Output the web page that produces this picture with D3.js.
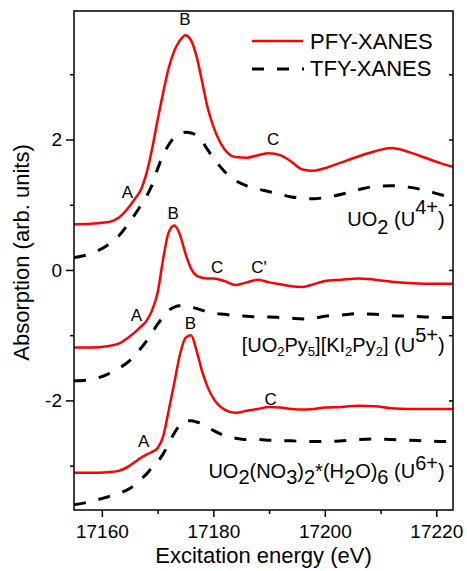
<!DOCTYPE html>
<html>
<head>
<meta charset="utf-8">
<script src="https://cdnjs.cloudflare.com/ajax/libs/d3/7.8.5/d3.min.js"></script>
<style>
    body { margin: 0; background: #fff; }
    svg text { font-family: "Liberation Sans", Arial, sans-serif; fill: #000; }
</style>
</head>
<body>
<div id="chart"></div>
<script>
// energy grid (eV), shared by all six spectra
var energy = [17155, 17158, 17161, 17163, 17165, 17166, 17167, 17168, 17169, 17170,
    17171, 17172, 17173, 17174, 17175, 17176, 17177, 17178, 17179, 17180,
    17182, 17184, 17186, 17188, 17190, 17192, 17194, 17196, 17198, 17200,
    17203, 17206, 17209, 17212, 17215, 17218, 17221, 17223];

// UO2 (U4+)
var pfyU4 = [0.70, 0.71, 0.73, 0.80, 0.98, 1.10, 1.23, 1.48, 1.85, 2.30,
    2.72, 3.10, 3.36, 3.52, 3.60, 3.52, 3.27, 2.88, 2.48, 2.20,
    1.85, 1.73, 1.72, 1.76, 1.79, 1.76, 1.66, 1.54, 1.52, 1.56,
    1.65, 1.74, 1.82, 1.87, 1.81, 1.72, 1.63, 1.58];
var tfyU4 = [0.19, 0.25, 0.38, 0.52, 0.74, 0.86, 0.99, 1.13, 1.30, 1.55,
    1.76, 1.92, 2.03, 2.09, 2.11, 2.10, 2.06, 1.97, 1.84, 1.72,
    1.51, 1.37, 1.29, 1.24, 1.20, 1.16, 1.12, 1.10, 1.09, 1.11,
    1.16, 1.23, 1.28, 1.29, 1.27, 1.22, 1.15, 1.11];

// [UO2Py5][KI2Py2] (U5+)
var pfyU5 = [-1.19, -1.19, -1.17, -1.13, -1.02, -0.95, -0.87, -0.78, -0.62, -0.35,
    0.17, 0.58, 0.68, 0.54, 0.25, 0.02, -0.09, -0.12, -0.13, -0.13,
    -0.17, -0.23, -0.19, -0.15, -0.19, -0.22, -0.25, -0.26, -0.22, -0.17,
    -0.15, -0.13, -0.15, -0.18, -0.20, -0.21, -0.21, -0.21];
var tfyU5 = [-1.70, -1.68, -1.60, -1.51, -1.39, -1.30, -1.20, -1.09, -0.96, -0.83,
    -0.72, -0.62, -0.57, -0.55, -0.55, -0.57, -0.59, -0.62, -0.64, -0.66,
    -0.68, -0.70, -0.71, -0.72, -0.72, -0.73, -0.74, -0.75, -0.74, -0.71,
    -0.69, -0.67, -0.68, -0.70, -0.71, -0.72, -0.73, -0.73];

// UO2(NO3)2*(H2O)6 (U6+)
var pfyU6 = [-3.11, -3.11, -3.10, -3.08, -3.00, -2.94, -2.88, -2.83, -2.79, -2.73,
    -2.55, -2.15, -1.73, -1.30, -1.04, -1.00, -1.24, -1.56, -1.80, -1.97,
    -2.14, -2.19, -2.16, -2.13, -2.10, -2.11, -2.13, -2.14, -2.13, -2.11,
    -2.10, -2.08, -2.09, -2.12, -2.13, -2.13, -2.13, -2.13];
var tfyU6 = [-3.60, -3.55, -3.48, -3.43, -3.35, -3.29, -3.21, -3.13, -3.03, -2.94,
    -2.82, -2.66, -2.50, -2.38, -2.31, -2.31, -2.33, -2.36, -2.41, -2.46,
    -2.54, -2.58, -2.60, -2.60, -2.61, -2.62, -2.62, -2.63, -2.63, -2.63,
    -2.62, -2.60, -2.59, -2.60, -2.61, -2.62, -2.63, -2.63];

var xMajor = [17160, 17180, 17200, 17220];
var xMinor = [17170, 17190, 17210];
var yMajor = [-2, 0, 2];
var yMinor = [-3, -1, 1, 3];

// feature letters: [energy, value, text]
var peakLabels = [
    [17174.9, 3.75, "B"], [17164.6, 1.11, "A"], [17190.75, 1.91, "C"],
    [17172.8, 0.78, "B"], [17166.2, -0.79, "A"], [17180.7, -0.04, "C"], [17188.2, -0.05, "C'"],
    [17175.9, -0.905, "B"], [17167.5, -2.72, "A"], [17190.3, -2.07, "C"]
];

var margin = {top: 11, right: 14, bottom: 61, left: 74},
    width = 467 - margin.left - margin.right,
    height = 571 - margin.top - margin.bottom;

var svg = d3.select("#chart").append("svg")
    .attr("width", 467)
    .attr("height", 571);

var g = svg.append("g")
    .attr("transform", "translate(" + margin.left + "," + margin.top + ")");

var x = d3.scaleLinear().domain([17155, 17223]).range([0, width]);
var y = d3.scaleLinear().domain([-3.68, 3.97]).range([height, 0]);

g.append("clipPath").attr("id", "clip")
    .append("rect").attr("width", width).attr("height", height);

var line = d3.line()
    .curve(d3.curveMonotoneX)
    .x(function(d, i) { return x(energy[i]); })
    .y(function(d) { return y(d); });

var curves = g.append("g").attr("clip-path", "url(#clip)");

[tfyU4, tfyU5, tfyU6].forEach(function(s) {
    curves.append("path")
        .attr("d", line(s))
        .attr("fill", "none")
        .attr("stroke", "#000")
        .attr("stroke-width", 3)
        .attr("stroke-dasharray", "12,13");
});

[pfyU4, pfyU5, pfyU6].forEach(function(s) {
    curves.append("path")
        .attr("d", line(s))
        .attr("fill", "none")
        .attr("stroke", "#ff0000")
        .attr("stroke-width", 2.5)
        .attr("stroke-linejoin", "round");
});

// axes
var bottom = g.append("g")
    .attr("transform", "translate(0," + height + ")")
    .call(d3.axisBottom(x).tickValues(xMajor).tickSize(7).tickPadding(8).tickFormat(d3.format("d")));
bottom.append("g")
    .call(d3.axisBottom(x).tickValues(xMinor).tickSize(4).tickFormat(""));

var left = g.append("g")
    .call(d3.axisLeft(y).tickValues(yMajor).tickSize(8).tickPadding(4)
        .tickFormat(function(d) { return String(d); }));
left.append("g")
    .call(d3.axisLeft(y).tickValues(yMinor).tickSize(4).tickFormat(""));

g.append("g")
    .attr("transform", "translate(" + width + ",0)")
    .call(d3.axisLeft(y).tickValues(yMajor.concat(yMinor)).tickSize(4).tickFormat(""));

g.selectAll(".domain").remove();
g.selectAll(".tick line").attr("stroke", "#000").attr("stroke-width", 1.5);
g.selectAll(".tick text").style("font-size", "19px").attr("fill", "#000");

g.append("rect")
    .attr("width", width)
    .attr("height", height)
    .attr("fill", "none")
    .attr("stroke", "#000")
    .attr("stroke-width", 1.5);

// axis titles
g.append("text")
    .attr("x", width / 2)
    .attr("y", height + 53)
    .attr("text-anchor", "middle")
    .style("font-size", "22px")
    .text("Excitation energy (eV)");

g.append("text")
    .attr("transform", "translate(" + (-45) + "," + (height / 2 - 8) + ") rotate(-90)")
    .attr("text-anchor", "middle")
    .style("font-size", "22px")
    .text("Absorption (arb. units)");

// feature letters
g.selectAll(".peak")
    .data(peakLabels)
    .enter().append("text")
    .attr("class", "peak")
    .attr("x", function(d) { return x(d[0]); })
    .attr("y", function(d) { return y(d[1]); })
    .attr("text-anchor", "middle")
    .style("font-size", "17px")
    .text(function(d) { return d[2]; });

// sample names, right aligned; parts: [text, shift, size]
function sampleLabel(yv, parts) {
    var t = g.append("text")
        .attr("x", x(17221.5))
        .attr("y", y(yv))
        .attr("text-anchor", "end")
        .style("font-size", "20px");
    var shift = 0;
    parts.forEach(function(p) {
        t.append("tspan")
            .attr("dy", p[1] - shift)
            .style("font-size", (p[2] || 20) + "px")
            .text(p[0]);
        shift = p[1];
    });
}

sampleLabel(0.68, [["UO", 0], ["2", 8], [" (U", 0], ["4+", -12], [")", 0]]);
sampleLabel(-1.26, [["[UO", 0], ["2", 4, 13], ["Py", 0], ["5", 4, 13], ["][KI", 0], ["2", 4, 13],
    ["Py", 0], ["2", 4, 13], ["] (U", 0], ["5+", -10], [")", 0]]);
sampleLabel(-3.19, [["UO", 0], ["2", 6], ["(NO", 0], ["3", 6], [")", 0], ["2", 6], ["*(H", 0],
    ["2", 6], ["O)", 0], ["6", 6], [" (U", 0], ["6+", -8], [")", 0]]);

// legend
var legend = g.append("g");
legend.append("line")
    .attr("x1", 178).attr("x2", 229).attr("y1", 30).attr("y2", 30)
    .attr("stroke", "#ff0000").attr("stroke-width", 2.5);
legend.append("line")
    .attr("x1", 178).attr("x2", 230).attr("y1", 58).attr("y2", 58)
    .attr("stroke", "#000").attr("stroke-width", 3).attr("stroke-dasharray", "12,13");
legend.append("text").attr("x", 236).attr("y", 37.5).style("font-size", "22px").text("PFY-XANES");
legend.append("text").attr("x", 236).attr("y", 64.5).style("font-size", "22px").text("TFY-XANES");
</script>
</body>
</html>
